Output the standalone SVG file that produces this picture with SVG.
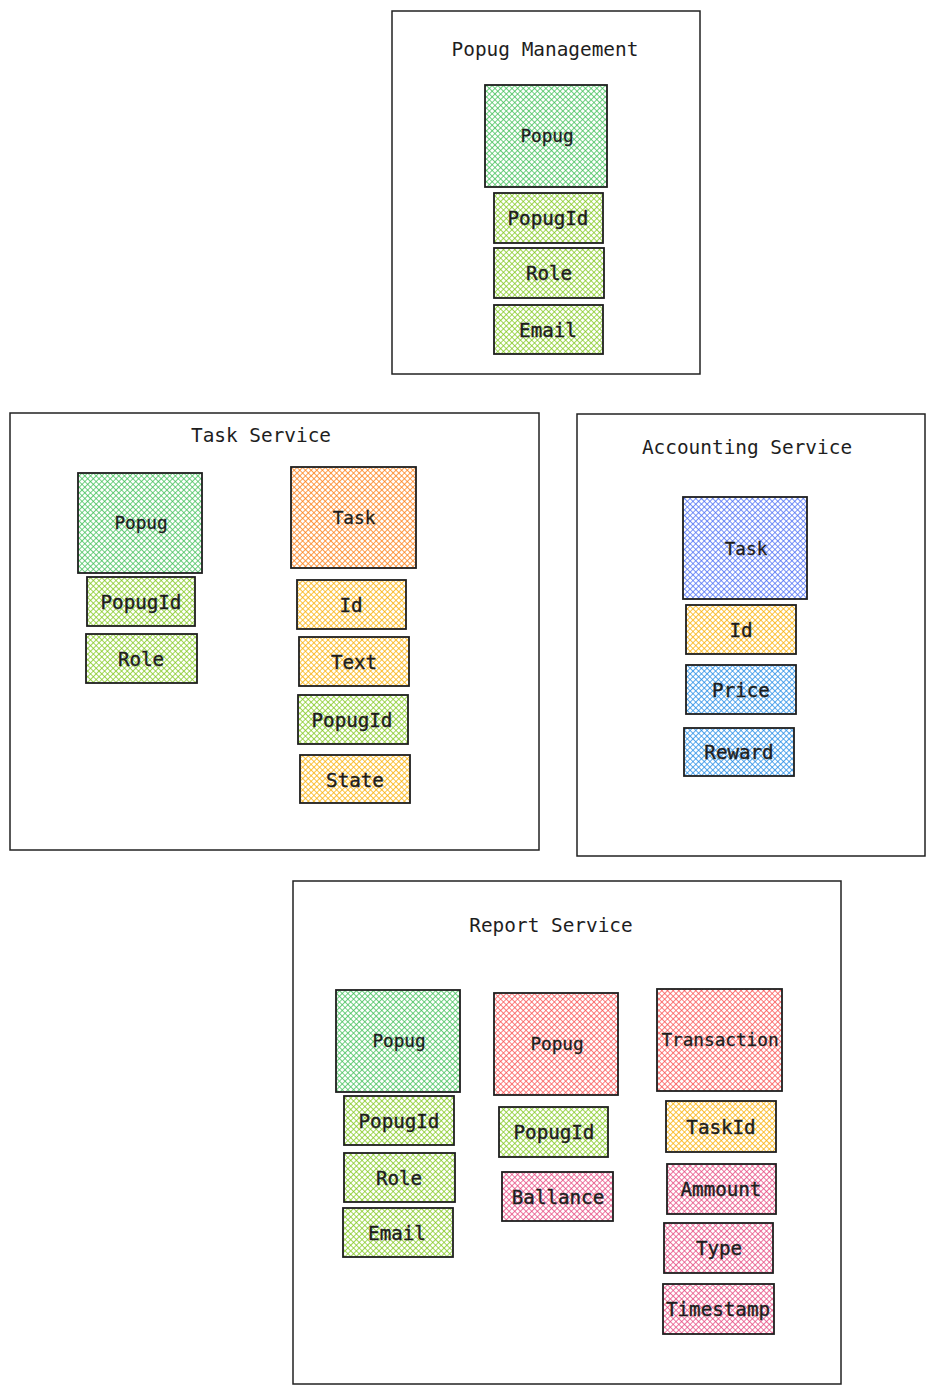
<svg xmlns="http://www.w3.org/2000/svg" width="935" height="1394" viewBox="0 0 935 1394">
<defs>
<pattern id="hGreen" width="4" height="4" patternUnits="userSpaceOnUse" patternTransform="rotate(45)"><rect width="4" height="4" fill="#fff"/><path d="M0 0V4M0 0H4" stroke="#40c057" stroke-width="1.5"/></pattern>
<pattern id="hLime" width="4" height="4" patternUnits="userSpaceOnUse" patternTransform="rotate(45)"><rect width="4" height="4" fill="#fff"/><path d="M0 0V4M0 0H4" stroke="#82c91e" stroke-width="1.5"/></pattern>
<pattern id="hOrange" width="4" height="4" patternUnits="userSpaceOnUse" patternTransform="rotate(45)"><rect width="4" height="4" fill="#fff"/><path d="M0 0V4M0 0H4" stroke="#fd7e14" stroke-width="1.5"/></pattern>
<pattern id="hYellow" width="4" height="4" patternUnits="userSpaceOnUse" patternTransform="rotate(45)"><rect width="4" height="4" fill="#fff"/><path d="M0 0V4M0 0H4" stroke="#fab005" stroke-width="1.5"/></pattern>
<pattern id="hIndigo" width="4" height="4" patternUnits="userSpaceOnUse" patternTransform="rotate(45)"><rect width="4" height="4" fill="#fff"/><path d="M0 0V4M0 0H4" stroke="#4c6ef5" stroke-width="1.5"/></pattern>
<pattern id="hBlue" width="4" height="4" patternUnits="userSpaceOnUse" patternTransform="rotate(45)"><rect width="4" height="4" fill="#fff"/><path d="M0 0V4M0 0H4" stroke="#228be6" stroke-width="1.5"/></pattern>
<pattern id="hRed" width="4" height="4" patternUnits="userSpaceOnUse" patternTransform="rotate(45)"><rect width="4" height="4" fill="#fff"/><path d="M0 0V4M0 0H4" stroke="#fa5252" stroke-width="1.5"/></pattern>
<pattern id="hPink" width="4" height="4" patternUnits="userSpaceOnUse" patternTransform="rotate(45)"><rect width="4" height="4" fill="#fff"/><path d="M0 0V4M0 0H4" stroke="#e64980" stroke-width="1.5"/></pattern>
</defs>
<style>
.frame{fill:#fff;stroke:#222;stroke-width:1.5}
.box{stroke:#1e1e1e;stroke-width:1.8}
.title{font-family:"DejaVu Sans Mono","Liberation Mono",monospace;font-size:19.4px;fill:#1e1e1e;text-anchor:middle}
.ent{font-family:"DejaVu Sans Mono","Liberation Mono",monospace;font-size:17.7px;fill:#1e1e1e;stroke:#1e1e1e;stroke-width:0.3;text-anchor:middle;dominant-baseline:central}
.fld{font-family:"DejaVu Sans Mono","Liberation Mono",monospace;font-size:19.2px;fill:#1e1e1e;stroke:#1e1e1e;stroke-width:0.4;text-anchor:middle;dominant-baseline:central}
.green{fill:url(#hGreen)}.lime{fill:url(#hLime)}.orange{fill:url(#hOrange)}.yellow{fill:url(#hYellow)}
.indigo{fill:url(#hIndigo)}.blue{fill:url(#hBlue)}.red{fill:url(#hRed)}.pink{fill:url(#hPink)}
</style>
<rect width="935" height="1394" fill="#fff"/>
<g id="connectors"></g>

<g id="popug-management">
<rect class="frame" x="392" y="11" width="308" height="363"/>
<text class="title" x="545" y="56">Popug Management</text>
</g>
<g id="pm-popug"><rect class="box green" x="485" y="85" width="122" height="102"/><text class="ent" x="547" y="136">Popug</text></g>
<g id="pm-popugid"><rect class="box lime" x="494" y="193" width="109" height="50"/><text class="fld" x="548" y="218">PopugId</text></g>
<g id="pm-role"><rect class="box lime" x="494" y="248" width="110" height="50"/><text class="fld" x="549" y="273">Role</text></g>
<g id="pm-email"><rect class="box lime" x="494" y="305" width="109" height="49"/><text class="fld" x="548" y="330">Email</text></g>

<g id="task-service">
<rect class="frame" x="10" y="413" width="529" height="437"/>
<text class="title" x="261" y="442">Task Service</text>
</g>
<g id="ts-popug"><rect class="box green" x="78" y="473" width="124" height="100"/><text class="ent" x="141" y="523">Popug</text></g>
<g id="ts-popugid"><rect class="box lime" x="87" y="577" width="108" height="49"/><text class="fld" x="141" y="602">PopugId</text></g>
<g id="ts-role"><rect class="box lime" x="86" y="634" width="111" height="49"/><text class="fld" x="141" y="659">Role</text></g>
<g id="ts-task"><rect class="box orange" x="291" y="467" width="125" height="101"/><text class="ent" x="354" y="518">Task</text></g>
<g id="ts-id"><rect class="box yellow" x="297" y="580" width="109" height="49"/><text class="fld" x="351" y="605">Id</text></g>
<g id="ts-text"><rect class="box yellow" x="299" y="637" width="110" height="49"/><text class="fld" x="354" y="662">Text</text></g>
<g id="ts-popugid2"><rect class="box lime" x="298" y="695" width="110" height="49"/><text class="fld" x="352" y="720">PopugId</text></g>
<g id="ts-state"><rect class="box yellow" x="300" y="755" width="110" height="48"/><text class="fld" x="355" y="780">State</text></g>

<g id="accounting-service">
<rect class="frame" x="577" y="414" width="348" height="442"/>
<text class="title" x="747" y="454">Accounting Service</text>
</g>
<g id="as-task"><rect class="box indigo" x="683" y="497" width="124" height="102"/><text class="ent" x="746" y="549">Task</text></g>
<g id="as-id"><rect class="box yellow" x="686" y="605" width="110" height="49"/><text class="fld" x="741" y="630">Id</text></g>
<g id="as-price"><rect class="box blue" x="686" y="665" width="110" height="49"/><text class="fld" x="741" y="690">Price</text></g>
<g id="as-reward"><rect class="box blue" x="684" y="728" width="110" height="48"/><text class="fld" x="739" y="752">Reward</text></g>

<g id="report-service">
<rect class="frame" x="293" y="881" width="548" height="503"/>
<text class="title" x="551" y="932">Report Service</text>
</g>
<g id="rs-popug"><rect class="box green" x="336" y="990" width="124" height="102"/><text class="ent" x="399" y="1041">Popug</text></g>
<g id="rs-popugid"><rect class="box lime" x="344" y="1096" width="110" height="49"/><text class="fld" x="399" y="1121">PopugId</text></g>
<g id="rs-role"><rect class="box lime" x="344" y="1153" width="111" height="49"/><text class="fld" x="399" y="1178">Role</text></g>
<g id="rs-email"><rect class="box lime" x="343" y="1208" width="110" height="49"/><text class="fld" x="397" y="1233">Email</text></g>
<g id="rs-popug2"><rect class="box red" x="494" y="993" width="124" height="102"/><text class="ent" x="557" y="1044">Popug</text></g>
<g id="rs-popugid2"><rect class="box lime" x="499" y="1107" width="109" height="50"/><text class="fld" x="554" y="1132">PopugId</text></g>
<g id="rs-ballance"><rect class="box pink" x="502" y="1172" width="111" height="49"/><text class="fld" x="558" y="1197">Ballance</text></g>
<g id="rs-transaction"><rect class="box red" x="657" y="989" width="125" height="102"/><text class="ent" x="720" y="1040">Transaction</text></g>
<g id="rs-taskid"><rect class="box yellow" x="666" y="1101" width="110" height="51"/><text class="fld" x="721" y="1127">TaskId</text></g>
<g id="rs-ammount"><rect class="box pink" x="667" y="1164" width="109" height="50"/><text class="fld" x="721" y="1189">Ammount</text></g>
<g id="rs-type"><rect class="box pink" x="664" y="1223" width="109" height="50"/><text class="fld" x="719" y="1248">Type</text></g>
<g id="rs-timestamp"><rect class="box pink" x="663" y="1284" width="111" height="50"/><text class="fld" x="718" y="1309">Timestamp</text></g>
</svg>
